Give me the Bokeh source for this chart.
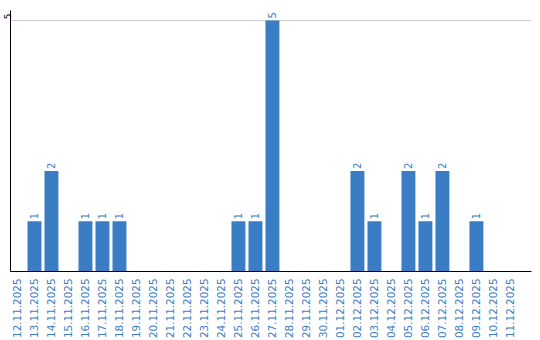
import math
from bokeh.plotting import figure
from bokeh.models import Range1d, FixedTicker, ColumnDataSource, Title
from bokeh.core.properties import value
from bokeh.embed import file_html
from bokeh.resources import INLINE

dates = ["12.11.2025", "13.11.2025", "14.11.2025", "15.11.2025", "16.11.2025",
         "17.11.2025", "18.11.2025", "19.11.2025", "20.11.2025", "21.11.2025",
         "22.11.2025", "23.11.2025", "24.11.2025", "25.11.2025", "26.11.2025",
         "27.11.2025", "28.11.2025", "29.11.2025", "30.11.2025", "01.12.2025",
         "02.12.2025", "03.12.2025", "04.12.2025", "05.12.2025", "06.12.2025",
         "07.12.2025", "08.12.2025", "09.12.2025", "10.12.2025", "11.12.2025"]
counts = [0, 1, 2, 0, 1, 1, 1, 0, 0, 0, 0, 0, 0, 1, 1, 5, 0, 0, 0, 0,
          2, 1, 0, 2, 1, 2, 0, 1, 0, 0]
y_ticks = [5]

BLUE = "#3b7dc4"

idx = list(range(len(dates)))
src = ColumnDataSource(dict(x=idx, top=counts))
lab_x = [i for i, c in zip(idx, counts) if c > 0]
lab_y = [c for c in counts if c > 0]
lab_t = [str(c) for c in counts if c > 0]
lab_src = ColumnDataSource(dict(x=lab_x, y=lab_y, t=lab_t))

p = figure(width=540, height=340, output_backend="svg", toolbar_location=None,
           x_range=Range1d(-0.41, 30.24), y_range=Range1d(0, 5.2),
           min_border_left=10, min_border_right=9, min_border_top=10,
           min_border_bottom=5)
p.outline_line_color = None
p.background_fill_color = "white"

p.vbar(x="x", top="top", width=0.82, bottom=0, source=src,
       fill_color=BLUE, line_color=None)
p.text(x="x", y="y", text="t", source=lab_src, angle=math.pi / 2,
       text_align="left", text_baseline="middle", y_offset=-2,
       text_font=value("DejaVu Sans"), text_font_size="10px", text_color=BLUE)

p.xgrid.grid_line_color = None
p.ygrid.grid_line_color = "#cccccc"
p.ygrid.ticker = FixedTicker(ticks=y_ticks)

p.xaxis.ticker = FixedTicker(ticks=idx)
p.xaxis.major_label_overrides = {i: d for i, d in zip(idx, dates)}
p.xaxis.major_label_orientation = math.pi / 2
p.xaxis.major_label_text_font = "DejaVu Sans"
p.xaxis.major_label_text_font_size = "10.4px"
p.xaxis.major_label_text_color = BLUE
p.xaxis.major_tick_line_color = None
p.xaxis.minor_tick_line_color = None
p.xaxis.major_tick_out = 0
p.xaxis.major_tick_in = 0
p.xaxis.minor_tick_out = 0
p.xaxis.major_label_standoff = 7
p.xaxis.axis_line_color = "black"

p.yaxis.ticker = FixedTicker(ticks=[])
p.yaxis.major_tick_line_color = None
p.yaxis.minor_tick_line_color = None
p.yaxis.major_tick_out = 0
p.yaxis.major_tick_in = 0
p.yaxis.minor_tick_out = 0
p.yaxis.major_label_standoff = 0
p.yaxis.axis_line_color = "black"

# y tick label shown rotated left of the axis
p.add_layout(Title(text=str(y_ticks[0]), align="right", offset=3,
                   standoff=0, text_font="DejaVu Sans", text_font_size="9px",
                   text_font_style="normal", text_color="black"), "left")

open("out.html", "w").write(file_html(p, INLINE))
